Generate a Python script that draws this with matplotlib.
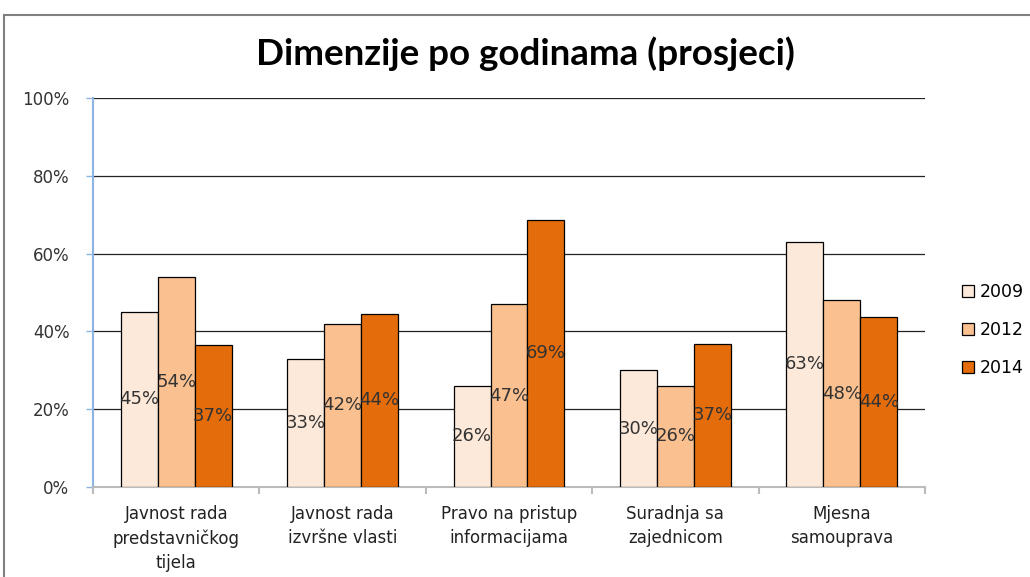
import matplotlib
matplotlib.use("Agg")
import matplotlib.pyplot as plt
import numpy as np
from matplotlib.patches import Rectangle
from matplotlib.ticker import PercentFormatter

categories = ["Javnost rada\npredstavničkog\ntijela", "Javnost rada\nizvršne vlasti",
              "Pravo na pristup\ninformacijama", "Suradnja sa\nzajednicom", "Mjesna\nsamouprava"]
series_names = ["2009", "2012", "2014"]
v2009 = [0.45, 0.33, 0.26, 0.30, 0.63]
v2012 = [0.54, 0.42, 0.47, 0.26, 0.48]
v2014 = [0.366, 0.445, 0.687, 0.368, 0.437]
colors = ["#FDE9D9", "#FAC090", "#E46C0A"]
title = "Dimenzije po godinama (prosjeci)"

fig = plt.figure(figsize=(10.30, 5.77), dpi=100)
fig.patches.append(Rectangle((4/1030, -0.01), 1.02, 1 - 15/577 + 0.01, transform=fig.transFigure,
                             fill=False, edgecolor="#808080", linewidth=1.5))
ax = fig.add_axes([93/1030, 1 - 487/577, 832/1030, 389/577])

x = np.arange(len(categories))
w = 0.222
for i, (vals, name, c) in enumerate(zip([v2009, v2012, v2014], series_names, colors)):
    pos = x + (i - 1) * w
    ax.bar(pos, vals, width=w, color=c, edgecolor="black", linewidth=0.9, label=name, zorder=3)
    for p, v in zip(pos, vals):
        ax.text(p, v / 2, f"{round(v*100):d}%", ha="center", va="center",
                fontsize=13, color="#333333", zorder=4)

ax.set_xlim(-0.5, len(categories) - 0.5)
ax.set_ylim(0, 1)
ax.set_yticks(np.arange(0, 1.01, 0.2))
ax.yaxis.set_major_formatter(PercentFormatter(1.0, decimals=0))
ax.set_xticks(x)
ax.set_xticklabels(categories, fontsize=12, color="#222222", linespacing=1.42)
ax.set_xticks(np.arange(-0.5, len(categories), 1), minor=True)
ax.tick_params(axis="x", which="major", length=0, pad=13)
ax.tick_params(axis="x", which="minor", length=5, color="#BBBBBB", width=1.5, direction="out")
ax.tick_params(axis="y", labelsize=12, length=5, color="#8EB4E3", width=1.0, labelcolor="#333333",
               pad=12)
ax.grid(axis="y", color="#222222", linewidth=0.9, zorder=0)
for s in ["top", "right"]:
    ax.spines[s].set_visible(False)
ax.spines["left"].set_color("#8EB4E3")
ax.spines["left"].set_linewidth(1.5)
ax.spines["bottom"].set_color("#BBBBBB")
ax.spines["bottom"].set_linewidth(1.5)

ax.legend(loc="center left", bbox_to_anchor=(946/1030, 1 - 330/577), bbox_transform=fig.transFigure,
          frameon=False, fontsize=12.5, handlelength=0.7, handleheight=0.7, labelspacing=1.15,
          handletextpad=0.35)

fig.text(0.5 + 10/1030, 1 - 54/577, title, ha="center", va="center", fontsize=26.5,
         fontweight="bold", family="Lato")

fig.savefig("out.png", dpi=100)
